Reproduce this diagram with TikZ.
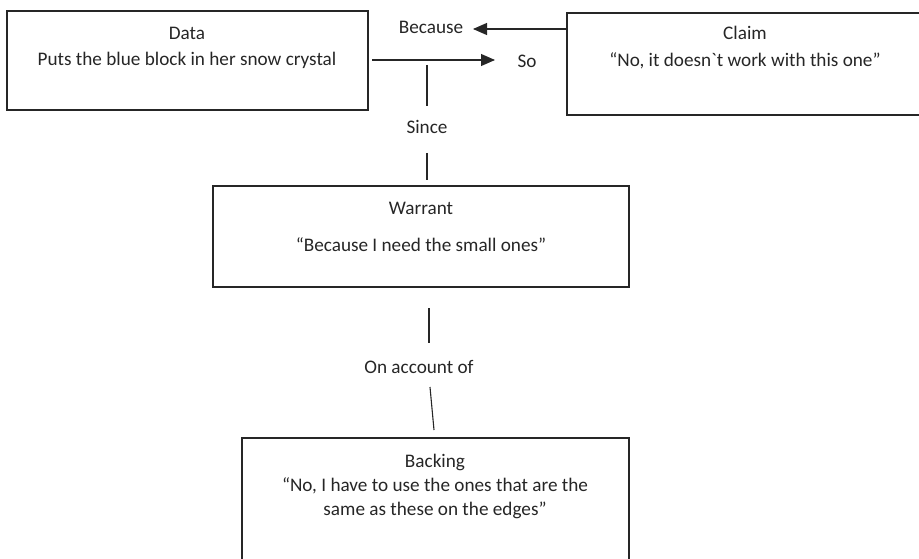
\documentclass[tikz,border=0pt]{standalone}
\usepackage{fontspec}
\setmainfont{Carlito}[Ligatures=TeXOff]
\usetikzlibrary{arrows.meta}
\definecolor{ink}{HTML}{262626}
\tikzset{
  box/.style={draw=ink, line width=1.1pt, rectangle, inner sep=0pt},
  txt/.style={text=ink, font=\fontsize{19.2}{22}\selectfont, inner sep=0pt, anchor=center},
  conn/.style={draw=ink, line width=1.1pt},
  arr/.style={conn, -{Triangle[length=14pt,width=12pt]}}
}
\begin{document}
\begin{tikzpicture}[x=1pt,y=-1pt]
\useasboundingbox (0,0) rectangle (919,559);
% boxes
\node[box, minimum width=361pt, minimum height=99pt] (data) at (187.5,60.5) {};
\node[box, minimum width=356pt, minimum height=102pt] (claim) at (745,64) {};
\node[box, minimum width=416pt, minimum height=101pt] (warrant) at (421,236.5) {};
\node[box, minimum width=387pt, minimum height=150pt] (backing) at (435.5,513) {};
% box texts
\node[txt] (dataT) at (187,33) {Data};
\node[txt] (dataB) at (187,60.5) {Puts the blue block in her snow crystal};
\node[txt] (claimT) at (745,33) {Claim};
\node[txt] (claimB) at (745,60.5) {“No, it doesn`t work with this one”};
\node[txt] (warT) at (421,208) {Warrant};
\node[txt] (warB) at (421,245) {“Because I need the small ones”};
\node[txt] (backT) at (435,462) {Backing};
\node[txt] (backB) at (435,486) {“No, I have to use the ones that are the};
\node[txt] (backC) at (435,510) {same as these on the edges”};
% labels
\node[txt] (because) at (431,27) {Because};
\node[txt] (so) at (527,61) {So};
\node[txt] (since) at (427,127) {Since};
\node[txt] (onacc) at (419,367) {On account of};
% connector endpoints
\coordinate (becTip) at (473,29);
\coordinate (soStart) at (372,60);
\coordinate (soTip) at (495,60);
\coordinate (s1a) at (427,65);
\coordinate (s1b) at (427,106);
\coordinate (s2a) at (427,153);
\coordinate (s2b) at (427,180);
\coordinate (o1a) at (429,308);
\coordinate (o1b) at (429,343);
\coordinate (o2a) at (430,387);
\coordinate (o2b) at (434,430);
% connectors
\draw[arr] (claim.west |- becTip) -- (becTip);
\draw[arr] (soStart) -- (soTip);
\draw[conn] (s1a) -- (s1b);
\draw[conn] (s2a) -- (s2b);
\draw[conn] (o1a) -- (o1b);
\draw[conn] (o2a) -- (o2b);
\end{tikzpicture}
\end{document}
